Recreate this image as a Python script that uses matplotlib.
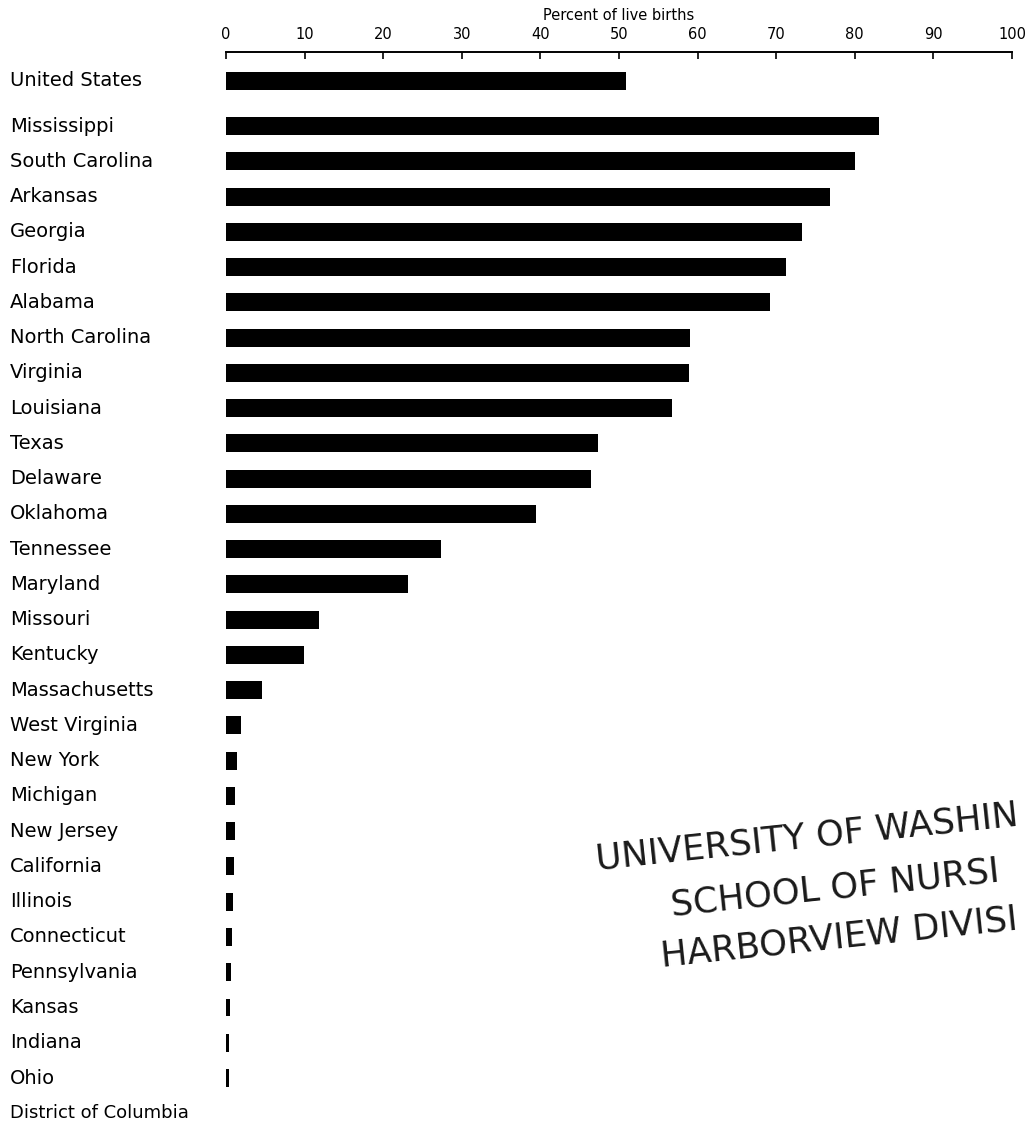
import matplotlib
matplotlib.use("Agg")
import matplotlib.pyplot as plt
import matplotlib.transforms as mtransforms

# ---- data ----
total_label = "United States"
total_value = 50.9

states = ["Mississippi", "South Carolina", "Arkansas", "Georgia", "Florida",
          "Alabama", "North Carolina", "Virginia", "Louisiana", "Texas",
          "Delaware", "Oklahoma", "Tennessee", "Maryland", "Missouri",
          "Kentucky", "Massachusetts", "West Virginia", "New York", "Michigan",
          "New Jersey", "California", "Illinois", "Connecticut", "Pennsylvania",
          "Kansas", "Indiana", "Ohio", "District of Columbia"]
values = [83.1, 80.0, 76.9, 73.3, 71.2,
          69.2, 59.0, 58.9, 56.7, 47.3,
          46.5, 39.5, 27.3, 23.2, 11.8,
          9.9, 4.6, 1.9, 1.4, 1.2,
          1.1, 1.0, 0.9, 0.7, 0.6,
          0.5, 0.4, 0.4, 0.0]

xticks = [0, 10, 20, 30, 40, 50, 60, 70, 80, 90, 100]
xlabel = "Percent of live births"
stamp_lines = ["UNIVERSITY OF WASHIN", "SCHOOL OF NURSI", "HARBORVIEW DIVISI"]

# ---- figure ----
W, H = 1034, 1123
fig = plt.figure(figsize=(W / 100, H / 100), dpi=100)
fig.patch.set_facecolor("white")

ax_left = 226 / W
ax_right = 1012 / W
ax_top_px = 52
ax = fig.add_axes([ax_left, 0.0, ax_right - ax_left, (H - ax_top_px) / H])

row_px = 35.26
first_px = 126
us_pos = (81 - first_px) / row_px
positions = list(range(len(states)))

ax.barh([us_pos], [total_value], height=0.51, color="black", align="center")
ax.barh(positions, values, height=0.51, color="black", align="center")

ax.set_xlim(0, 100)
ax.set_ylim((H - first_px) / row_px, (ax_top_px - first_px) / row_px)

for s in ["left", "right", "bottom"]:
    ax.spines[s].set_visible(False)
ax.spines["top"].set_linewidth(1.4)
ax.set_yticks([])
ax.set_xticks(xticks)
ax.set_xticklabels([str(t) for t in xticks])
ax.tick_params(axis="x", which="both", top=True, labeltop=True,
               bottom=False, labelbottom=False, direction="in",
               length=5, width=1.2, pad=7, labelsize=10.5)
ax.xaxis.set_label_position("top")
ax.set_xlabel(xlabel, fontsize=10.5, labelpad=5)

# row labels
trans = mtransforms.blended_transform_factory(fig.transFigure, ax.transData)
ax.text(10 / W, us_pos, total_label, transform=trans, ha="left", va="center",
        fontsize=14, color="black")
for p, name in zip(positions, states):
    fs = 13 if name == "District of Columbia" else 14
    ax.text(10 / W, p, name, transform=trans, ha="left", va="center",
            fontsize=fs, color="black")

# library stamp
stamp_pos = [(597, 870), (672, 916), (662, 967)]
for (px, py), line in zip(stamp_pos, stamp_lines):
    fig.text(px / W, 1 - py / H, line, fontsize=25.5, rotation=6,
             rotation_mode="anchor", ha="left", va="baseline",
             color="#1a1a1a")

fig.savefig("out.png", dpi=100, facecolor="white")
